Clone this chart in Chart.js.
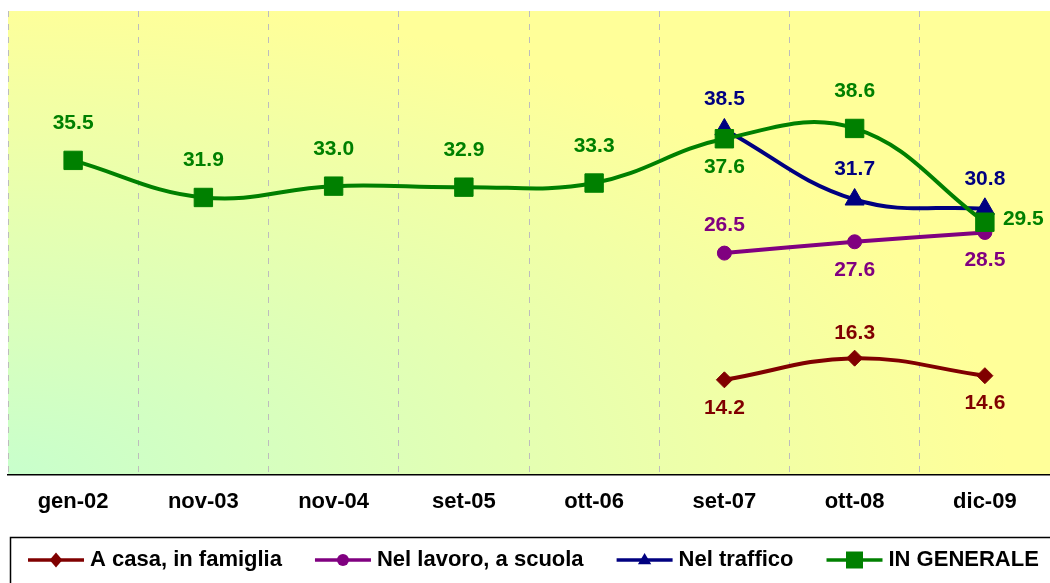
<!DOCTYPE html>
<html>
<head>
<meta charset="utf-8">
<script src="https://cdn.jsdelivr.net/npm/chart.js@4.4.1/dist/chart.umd.min.js"></script>
<style>
html,body{margin:0;padding:0;background:#ffffff;}
#wrap{width:1050px;height:583px;position:relative;}
</style>
</head>
<body>
<div id="wrap"><canvas id="c"></canvas></div>
<script>
// ---- data ----
const categories = ['gen-02','nov-03','nov-04','set-05','ott-06','set-07','ott-08','dic-09'];
const casaFamiglia = [null,null,null,null,null,14.2,16.3,14.6];
const lavoroScuola = [null,null,null,null,null,26.5,27.6,28.5];
const traffico     = [null,null,null,null,null,38.5,31.7,30.8];
const inGenerale   = [35.5,31.9,33.0,32.9,33.3,37.6,38.6,29.5];
const seriesNames  = ['A casa, in famiglia','Nel lavoro, a scuola','Nel traffico','IN GENERALE'];

// ---- styles ----
const seriesColors = ['#800000','#800080','#000080','#008000'];
const pointStyles  = ['rectRot','circle','triangle','rect'];
const pointRadii   = [8,7,11,13];
const labelPlacement = [
  [null,null,null,null,null,'below','above','below'],
  [null,null,null,null,null,'above','below','below'],
  [null,null,null,null,null,'above','above','above'],
  ['above','above','above','above','above','below','above','right']
];
const aboveOffset = [-25,-28,-30,-37];
const belowOffset = 28;
const FONT = '"Liberation Sans", Arial, sans-serif';

const seriesValues = [casaFamiglia, lavoroScuola, traffico, inGenerale];

const datasets = seriesValues.map((vals, i) => ({
  label: seriesNames[i],
  data: vals,
  borderColor: seriesColors[i],
  backgroundColor: seriesColors[i],
  pointBackgroundColor: seriesColors[i],
  pointBorderColor: seriesColors[i],
  pointBorderWidth: 1,
  pointStyle: pointStyles[i],
  pointRadius: pointRadii[i],
  pointHoverRadius: pointRadii[i],
  borderWidth: 4,
  tension: 0.4,
  fill: false,
  order: 4 - i
}));

const bgPlugin = {
  id: 'bg',
  beforeDraw(chart) {
    const {ctx, chartArea: a} = chart;
    const rx = 1000, ry = 480;
    ctx.save();
    ctx.beginPath();
    ctx.rect(a.left, a.top, a.right - a.left, a.bottom - a.top);
    ctx.clip();
    ctx.translate(a.left, a.bottom);
    ctx.scale(rx, ry);
    const g = ctx.createRadialGradient(0, 0, 0, 0, 0, 1);
    g.addColorStop(0, '#C8FFCC');
    g.addColorStop(1, '#FFFF99');
    ctx.fillStyle = g;
    ctx.fillRect(0, -(a.bottom - a.top) / ry, (a.right - a.left) / rx + 0.1, (a.bottom - a.top) / ry);
    ctx.restore();
  }
};

const labelPlugin = {
  id: 'vlabels',
  afterDatasetsDraw(chart) {
    const ctx = chart.ctx;
    ctx.save();
    ctx.font = 'bold 21px ' + FONT;
    ctx.textBaseline = 'middle';
    chart.data.datasets.forEach((ds, i) => {
      const meta = chart.getDatasetMeta(i);
      meta.data.forEach((pt, j) => {
        const v = ds.data[j];
        const pl = labelPlacement[i][j];
        if (v == null || !pl) return;
        const txt = v.toFixed(1);
        let x = pt.x, y = pt.y;
        ctx.textAlign = 'center';
        if (pl === 'above') y += aboveOffset[i];
        else if (pl === 'below') y += belowOffset;
        else if (pl === 'right') { x += 18; y -= 3; ctx.textAlign = 'left'; }
        ctx.fillStyle = seriesColors[i];
        ctx.fillText(txt, x, y);
      });
    });
    ctx.restore();
  }
};

function drawMarker(ctx, style, x, y, r, color) {
  ctx.fillStyle = color;
  ctx.beginPath();
  if (style === 'rectRot') {
    ctx.moveTo(x, y - r); ctx.lineTo(x + r * 0.85, y); ctx.lineTo(x, y + r); ctx.lineTo(x - r * 0.85, y);
  } else if (style === 'circle') {
    ctx.arc(x, y, r, 0, Math.PI * 2);
  } else if (style === 'triangle') {
    ctx.moveTo(x, y - r); ctx.lineTo(x + r * 0.95, y + r * 0.6); ctx.lineTo(x - r * 0.95, y + r * 0.6);
  } else {
    ctx.rect(x - r, y - r, 2 * r, 2 * r);
  }
  ctx.closePath();
  ctx.fill();
}

const legendPlugin = {
  id: 'customLegend',
  afterDraw(chart) {
    const ctx = chart.ctx;
    ctx.save();
    ctx.strokeStyle = '#000';
    ctx.lineWidth = 1.5;
    ctx.strokeRect(10.5, 537.5, 1060, 80);
    ctx.font = 'bold 22px ' + FONT;
    ctx.textBaseline = 'middle';
    ctx.textAlign = 'left';
    const legendR = [7.5, 6, 7, 8.5];
    let x = 28;
    const y = 560;
    seriesNames.forEach((name, i) => {
      ctx.strokeStyle = seriesColors[i];
      ctx.lineWidth = 3.5;
      ctx.beginPath();
      ctx.moveTo(x, y); ctx.lineTo(x + 56, y);
      ctx.stroke();
      drawMarker(ctx, pointStyles[i], x + 28, y, legendR[i], seriesColors[i]);
      ctx.fillStyle = '#000';
      ctx.fillText(name, x + 62, y);
      x += 62 + ctx.measureText(name).width + 33;
    });
    ctx.restore();
  }
};

new Chart(document.getElementById('c'), {
  type: 'line',
  data: { labels: categories, datasets: datasets },
  options: {
    responsive: true,
    maintainAspectRatio: false,
    animation: false,
    spanGaps: false,
    layout: { autoPadding: false, padding: { left: 8, top: 11, right: -3, bottom: 54 } },
    plugins: {
      legend: { display: false },
      tooltip: { enabled: false },
      title: { display: false }
    },
    scales: {
      x: {
        offset: true,
        grid: {
          offset: true,
          drawTicks: false,
          color: '#BDBDBD',
          lineWidth: 1
        },
        border: { display: true, color: '#000', width: 1.5, dash: [6, 7] },
        ticks: {
          color: '#000',
          padding: 14,
          font: { family: FONT, size: 22, weight: 'bold' }
        }
      },
      y: {
        display: false,
        min: 5,
        max: 50
      }
    }
  },
  plugins: [bgPlugin, labelPlugin, legendPlugin]
});
</script>
</body>
</html>
